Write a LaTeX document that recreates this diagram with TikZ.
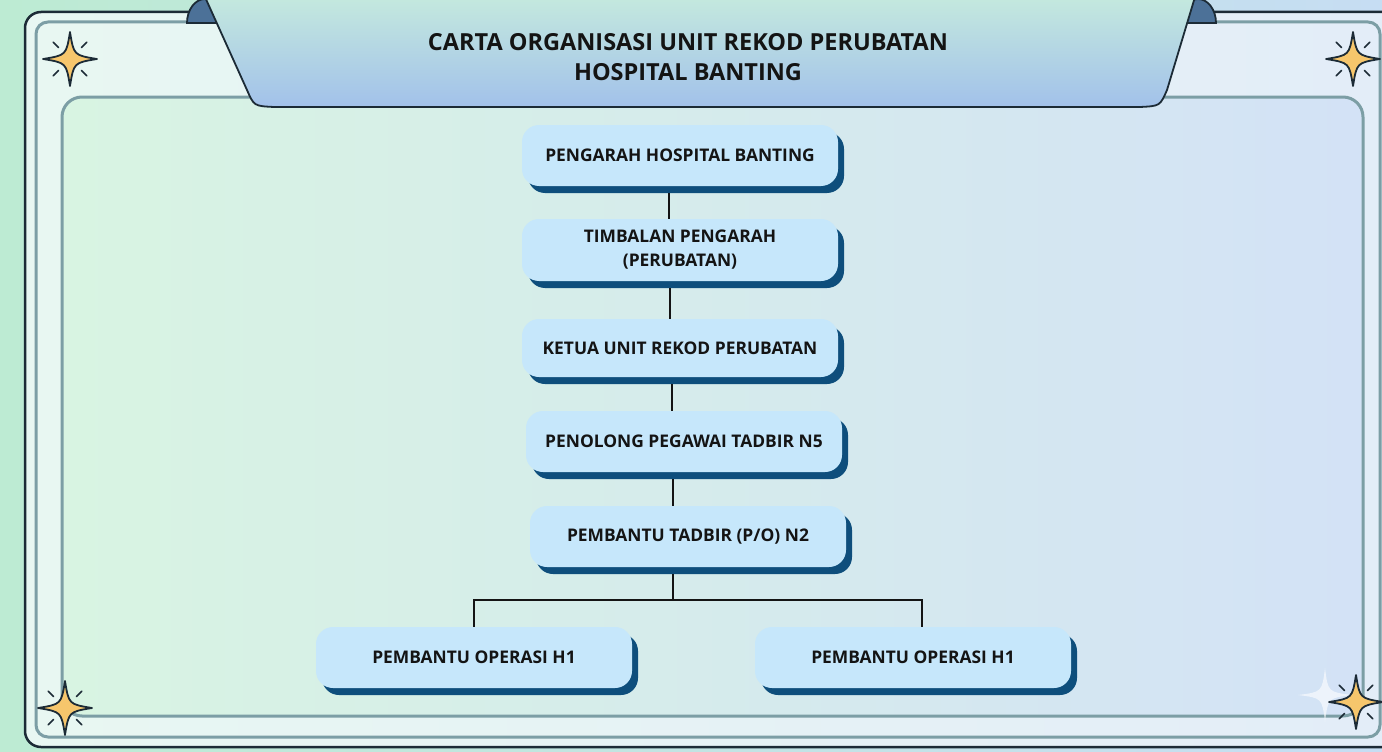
\documentclass[tikz,border=0pt]{standalone}
\usepackage{fontspec}
\setmainfont{Open Sans}
\usetikzlibrary{shadows}
\definecolor{bgleft}{HTML}{BDEBD3}
\definecolor{bgright}{HTML}{C6DDF3}
\definecolor{frameink}{HTML}{1C2B36}
\definecolor{framegrey}{HTML}{7C9EA5}
\definecolor{frameleft}{HTML}{E8F7F2}
\definecolor{frameright}{HTML}{E3EDF8}
\definecolor{panelleft}{HTML}{D8F4E2}
\definecolor{panelright}{HTML}{D3E2F6}
\definecolor{capblue}{HTML}{4C7198}
\definecolor{bannertop}{HTML}{C4E9DE}
\definecolor{bannerbot}{HTML}{A2C1EA}
\definecolor{boxfill}{HTML}{C6E7FB}
\definecolor{boxshadow}{HTML}{0E4E7C}
\definecolor{starfill}{HTML}{F6C66C}
\definecolor{inkdark}{HTML}{141414}
\newcommand{\sparkle}[3]{%
  \begin{scope}[shift={(#1,#2)}]
  \filldraw[fill=starfill,draw=frameink,line width=1.8pt,line join=round]
    (0,-#3) .. controls (0.14*#3,-0.14*#3) .. (#3,0)
    .. controls (0.14*#3,0.14*#3) .. (0,#3)
    .. controls (-0.14*#3,0.14*#3) .. (-#3,0)
    .. controls (-0.14*#3,-0.14*#3) .. cycle;
  \foreach \a in {45,135,225,315}
    \draw[frameink,line width=1.6pt,line cap=round] (\a:0.6*#3) -- (\a:0.88*#3);
  \end{scope}}
\begin{document}
\begin{tikzpicture}[x=1pt,y=-1pt,
  unit/.style={rounded corners=17pt,fill=boxfill,minimum width=316pt,minimum height=61pt,
    align=center,inner sep=2pt,text=inkdark,font=\fontsize{17.4}{24}\selectfont\bfseries,
    general shadow={fill=boxshadow,shadow xshift=6pt,shadow yshift=-7pt}},
  ln/.style={line width=1.6pt,draw=inkdark}]
\clip (0,0) rectangle (1382,752);
% background and frames
\shade[left color=bgleft,right color=bgright] (0,0) rectangle (1382,752);
\draw[frameink,line width=2.5pt,rounded corners=16pt,left color=frameleft,right color=frameright]
  (25,12) rectangle (1400,747);
\draw[framegrey,line width=3pt,rounded corners=12pt,left color=frameleft,right color=frameright]
  (36,22) rectangle (1380,737);
\draw[framegrey,line width=3pt,rounded corners=20pt,left color=panelleft,right color=panelright]
  (62,97) rectangle (1363,716);
% title banner
\filldraw[fill=capblue,draw=frameink,line width=1.8pt] (187,23) arc[start angle=180,end angle=360,x radius=18,y radius=24] -- cycle;
\filldraw[fill=capblue,draw=frameink,line width=1.8pt] (1180,23) arc[start angle=180,end angle=360,x radius=18,y radius=24] -- cycle;
\draw[frameink,line width=1.8pt,top color=bannertop,bottom color=bannerbot]
  (205,-3) -- (247,90) .. controls (254,106) .. (274,107) -- (1140,107)
  .. controls (1160,106) .. (1167,90) -- (1195,-3) -- cycle;
\node[text=inkdark,align=center,font=\fontsize{23.5}{30}\selectfont\bfseries] (title) at (688,57)
  {CARTA ORGANISASI UNIT REKOD PERUBATAN\\HOSPITAL BANTING};
% sparkles
\sparkle{70}{59}{27}
\sparkle{1353}{59}{27}
\sparkle{65}{708}{27}
\fill[white,opacity=0.6] (1325,668) .. controls (1328,692) .. (1352,695)
  .. controls (1328,698) .. (1325,722) .. controls (1322,698) .. (1298,695)
  .. controls (1322,692) .. cycle;
\sparkle{1356}{702}{27}
% org chart
\node[unit] (b1) at (680,155.5) {PENGARAH HOSPITAL BANTING};
\node[unit,minimum height=62pt] (b2) at (680,250) {TIMBALAN PENGARAH\\(PERUBATAN)};
\node[unit,minimum height=58pt] (b3) at (680,348) {KETUA UNIT REKOD PERUBATAN};
\node[unit] (b4) at (684,441.5) {PENOLONG PEGAWAI TADBIR N5};
\node[unit] (b5) at (688,536.5) {PEMBANTU TADBIR (P/O) N2};
\node[unit] (b6) at (474,657.5) {PEMBANTU OPERASI H1};
\node[unit] (b7) at (913,657.5) {PEMBANTU OPERASI H1};
\coordinate (fork) at (673,600);
\draw[ln] ([xshift=-11pt,yshift=-7pt]b1.south) -- ([xshift=-11pt]b2.north);
\draw[ln] ([xshift=-10pt,yshift=-7pt]b2.south) -- ([xshift=-10pt]b3.north);
\draw[ln] ([xshift=-8pt,yshift=-7pt]b3.south) -- ([xshift=-12pt]b4.north);
\draw[ln] ([xshift=-11pt,yshift=-7pt]b4.south) -- ([xshift=-15pt]b5.north);
\draw[ln] ([xshift=-15pt,yshift=-7pt]b5.south) -- (fork);
\draw[ln] (b6.north) |- (fork) -| ([xshift=9pt]b7.north);
\end{tikzpicture}
\end{document}
